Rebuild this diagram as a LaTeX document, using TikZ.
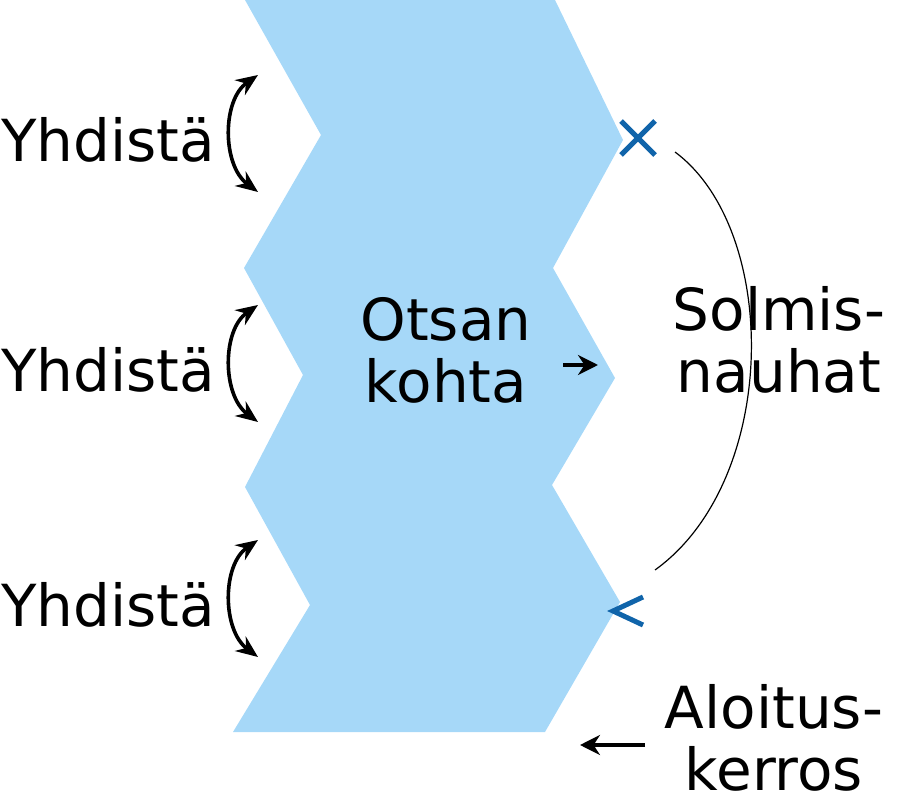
\documentclass[tikz,border=0pt]{standalone}
\usepackage{fontspec}
\setmainfont{DejaVu Sans}
\usetikzlibrary{arrows.meta}
\begin{document}
\begin{tikzpicture}[x=1pt,y=-1pt,
  lab/.style={font=\fontsize{58}{62}\selectfont,align=center,inner sep=0pt},
  dblarr/.style={{Stealth[length=22pt,width=18pt]}-{Stealth[length=22pt,width=18pt]},line width=3.6pt},
  onearr/.style={-{Stealth[length=20pt,width=20pt]},line width=4pt}]
\useasboundingbox (0,0) rectangle (900,791);
\fill[fill={rgb,255:red,166;green,216;blue,248}] (245,0) -- (555,0) -- (623,140) -- (553,268) -- (615,378) -- (552,485) -- (620,602) -- (545,732) -- (233,732) -- (310,605) -- (245,487) -- (303,375) -- (244,268) -- (321,135) -- cycle;
\foreach \y/\n in {140/a,370/b,605/c}{
  \node[lab,anchor=west] (y\n) at (1,\y) {Yhdistä};
  \coordinate (t\n) at (258,\y-65);
  \coordinate (b\n) at (258,\y+52);
  \draw[dblarr] (t\n) .. controls (222,\y-40) and (222,\y+25) .. (b\n);
}
\node[lab] (ot) at (446,350) {Otsan\\kohta};
\coordinate (oa) at (563,365); \coordinate (ob) at (598,365);
\draw[onearr] (oa) -- (ob);
\node[lab] (so) at (779,340) {Solmis-\\nauhat};
\node[lab] (al) at (774,738) {Aloitus-\\kerros};
\coordinate (aa) at (645,745); \coordinate (ab) at (580,745);
\draw[onearr] (aa) -- (ab);
\coordinate (c1) at (675,152); \coordinate (c2) at (655,570);
\draw[line width=1.2pt] (c1) .. controls (780,230) and (780,480) .. (c2);
\node[inner sep=0pt] (x) at (638,138) {};
\draw[line width=5pt,color={rgb,255:red,16;green,100;blue,170}] (621,121) -- (655,155) (621,155) -- (655,121);
\draw[line width=5pt,color={rgb,255:red,16;green,100;blue,170}] (643,597) -- (613,611) -- (643,625);
\end{tikzpicture}
\end{document}
